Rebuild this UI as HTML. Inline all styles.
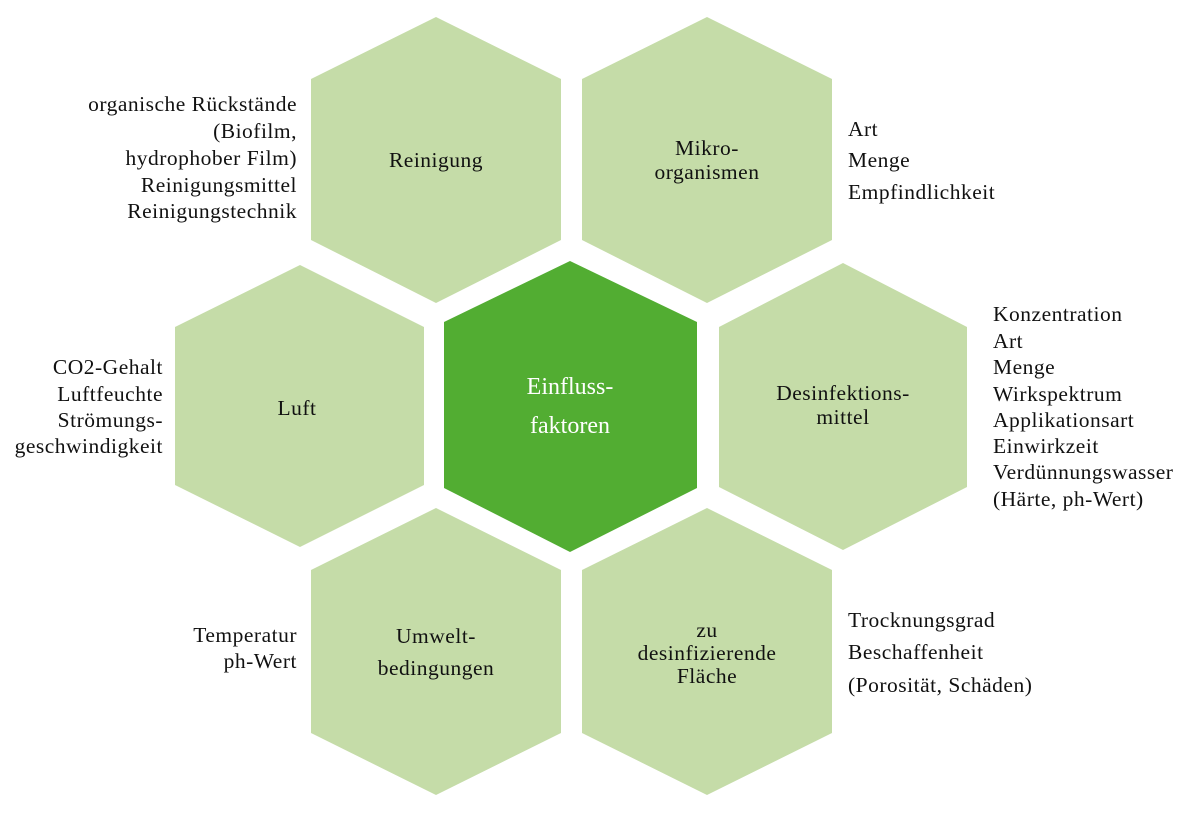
<!DOCTYPE html>
<html><head><meta charset="utf-8"><style>
html,body{margin:0;padding:0;background:#fff;}
svg{display:block;}
text{font-family:"Liberation Serif",serif;font-size:21.5px;letter-spacing:0.5px;fill:#111;}
.c{text-anchor:middle;}
.r{text-anchor:end;}
.w{fill:#fff;font-size:24px;letter-spacing:0;}
</style></head><body>
<svg width="1200" height="818" viewBox="0 0 1200 818">
<g fill="#c5dca8">
<polygon points="436,17 561,79 561,240 436,303 311,240 311,79"/>
<polygon points="707,17 832,79 832,240 707,303 582,240 582,79"/>
<polygon points="300,265 424,327 424,485 300,547 175,485 175,327"/>
<polygon points="843,263 967,327 967,487 843,550 719,487 719,327"/>
<polygon points="436,508 561,570 561,733 436,795 311,733 311,570"/>
<polygon points="707,508 832,570 832,733 707,795 582,733 582,570"/>
</g>
<polygon fill="#52ad32" points="570,261 697,322 697,488 570,552 444,488 444,322"/>

<text class="c" x="436" y="167">Reinigung</text>
<text class="c" x="707" y="155">Mikro-</text>
<text class="c" x="707" y="179">organismen</text>
<text class="c" x="297" y="415">Luft</text>
<text class="c w" x="570" y="394">Einfluss-</text>
<text class="c w" x="570" y="433">faktoren</text>
<text class="c" x="843" y="400">Desinfektions-</text>
<text class="c" x="843" y="424">mittel</text>
<text class="c" x="436" y="643">Umwelt-</text>
<text class="c" x="436" y="675">bedingungen</text>
<text class="c" x="707" y="637">zu</text>
<text class="c" x="707" y="660">desinfizierende</text>
<text class="c" x="707" y="683">Fläche</text>

<text class="r" x="297" y="111">organische Rückstände</text>
<text class="r" x="297" y="138">(Biofilm,</text>
<text class="r" x="297" y="165">hydrophober Film)</text>
<text class="r" x="297" y="192">Reinigungsmittel</text>
<text class="r" x="297" y="218">Reinigungstechnik</text>
<text class="r" x="163" y="374">CO2-Gehalt</text>
<text class="r" x="163" y="401">Luftfeuchte</text>
<text class="r" x="163" y="427">Strömungs-</text>
<text class="r" x="163" y="453">geschwindigkeit</text>
<text class="r" x="297" y="642">Temperatur</text>
<text class="r" x="297" y="668">ph-Wert</text>
<text x="848" y="136">Art</text>
<text x="848" y="167">Menge</text>
<text x="848" y="199">Empfindlichkeit</text>
<text x="993" y="321">Konzentration</text>
<text x="993" y="348">Art</text>
<text x="993" y="374">Menge</text>
<text x="993" y="401">Wirkspektrum</text>
<text x="993" y="427">Applikationsart</text>
<text x="993" y="453">Einwirkzeit</text>
<text x="993" y="479">Verdünnungswasser</text>
<text x="993" y="506">(Härte, ph-Wert)</text>
<text x="848" y="627">Trocknungsgrad</text>
<text x="848" y="659">Beschaffenheit</text>
<text x="848" y="692">(Porosität, Schäden)</text>
</svg>
</body></html>
